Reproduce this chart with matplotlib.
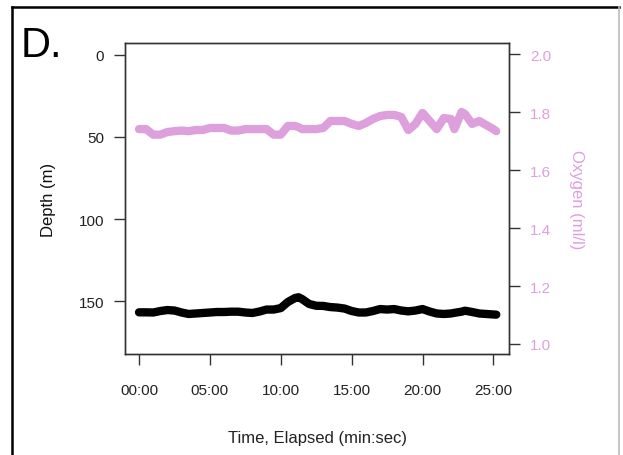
import matplotlib
matplotlib.use("Agg")
import matplotlib.pyplot as plt
from matplotlib.lines import Line2D
from matplotlib.ticker import FuncFormatter

plt.rcParams['font.family'] = ['Liberation Sans', 'DejaVu Sans']

# Elapsed time (minutes)
time_min = [0.0, 0.5, 1.0, 1.5, 2.0, 2.5, 3.0, 3.5, 4.0, 4.5, 5.0, 5.5, 6.0, 6.5,
            7.0, 7.5, 8.0, 8.5, 9.0, 9.5, 10.0, 10.5, 11.0, 11.25, 11.5, 12.0,
            12.5, 13.0, 13.5, 14.0, 14.5, 15.0, 15.5, 16.0, 16.5, 17.0, 17.5,
            18.0, 18.5, 19.0, 19.5, 20.0, 20.5, 21.0, 21.5, 22.0, 22.25, 22.75,
            23.0, 23.5, 24.0, 24.5, 25.0, 25.2]

depth_m = [156.9, 156.9, 157.0, 156.1, 155.5, 155.8, 157.0, 157.9, 157.6, 157.3,
           157.0, 156.7, 156.7, 156.5, 156.5, 157.0, 157.3, 156.4, 155.2, 155.2,
           154.3, 150.6, 148.2, 147.7, 148.8, 151.8, 152.9, 153.0, 153.7, 154.0,
           154.6, 156.1, 157.0, 157.0, 156.1, 154.9, 155.2, 154.9, 155.8, 156.3,
           155.8, 154.9, 156.4, 157.6, 157.9, 157.6, 157.2, 156.5, 155.9, 156.7,
           157.6, 157.9, 158.2, 158.3]

oxygen_ml_l = [1.741, 1.741, 1.722, 1.722, 1.731, 1.734, 1.736, 1.734, 1.738, 1.738,
               1.745, 1.745, 1.745, 1.736, 1.736, 1.741, 1.741, 1.741, 1.741, 1.722,
               1.722, 1.752, 1.752, 1.748, 1.741, 1.741, 1.741, 1.745, 1.769, 1.769,
               1.769, 1.759, 1.752, 1.762, 1.776, 1.786, 1.790, 1.790, 1.783, 1.738,
               1.759, 1.797, 1.769, 1.741, 1.779, 1.776, 1.741, 1.800, 1.793, 1.759,
               1.769, 1.755, 1.741, 1.734]

x_ticks = [0, 5, 10, 15, 20, 25]
depth_ticks = [0, 50, 100, 150]
oxygen_ticks = [1.0, 1.2, 1.4, 1.6, 1.8, 2.0]

PLUM = '#DDA0DD'

fig = plt.figure(figsize=(6.23, 4.56), dpi=100)
W, H = 623, 456
ax = fig.add_axes([125 / W, 1 - 355 / H, (509 - 125) / W, (355 - 44) / H])
ax2 = ax.twinx()

ax.plot(time_min, depth_m, color='black', lw=6.0,
        solid_capstyle='round', solid_joinstyle='round', zorder=3)
ax2.plot(time_min, oxygen_ml_l, color=PLUM, lw=6.0,
         solid_capstyle='round', solid_joinstyle='round', zorder=3)

ax.set_xlim(-0.99, 26.1)
ax.set_ylim(182.3, -7.3)
ax2.set_ylim(0.9655, 2.038)

ax.set_xticks(x_ticks)
ax.xaxis.set_major_formatter(FuncFormatter(lambda v, p: f"{int(v):02d}:00"))
ax.set_yticks(depth_ticks)
ax2.set_yticks(oxygen_ticks)
ax2.yaxis.set_major_formatter(FuncFormatter(lambda v, p: f"{v:.1f}"))

for a in (ax, ax2):
    for s in a.spines.values():
        s.set_linewidth(1.0)
        s.set_color('#333333')

ax.tick_params(axis='both', direction='out', length=8, width=1.0,
               color='#333333', labelsize=11, labelcolor='#222222')
ax.tick_params(axis='x', pad=13)
ax.tick_params(axis='y', pad=7)
ax2.tick_params(axis='y', direction='out', length=8, width=1.0,
                color='#333333', labelsize=11, labelcolor=PLUM, pad=7)

ax.set_xlabel('Time, Elapsed (min:sec)', fontsize=12, color='#222222')
ax.xaxis.set_label_coords(0.5, -0.245)
ax.set_ylabel('Depth (m)', fontsize=12, color='#111111')
ax.yaxis.set_label_coords(-0.18, 0.5)
ax2.set_ylabel('Oxygen (ml/l)', fontsize=12, color=PLUM, rotation=270, va='bottom')
ax2.yaxis.set_label_coords(1.155, 0.5)

# panel label and frame
fig.text(21 / W, 1 - 57 / H, 'D.', fontsize=30, color='black', ha='left', va='baseline')
fig.add_artist(Line2D([12 / W, 12 / W], [0, 1 - 8 / H], color='black', lw=1.8,
                      transform=fig.transFigure))
fig.add_artist(Line2D([12 / W, 619 / W], [1 - 8 / H, 1 - 8 / H], color='black', lw=1.8,
                      transform=fig.transFigure))
fig.add_artist(Line2D([619 / W, 619 / W], [0, 1 - 8 / H], color='#bbbbbb', lw=1.2,
                      transform=fig.transFigure))

fig.savefig('out.png', dpi=100)
